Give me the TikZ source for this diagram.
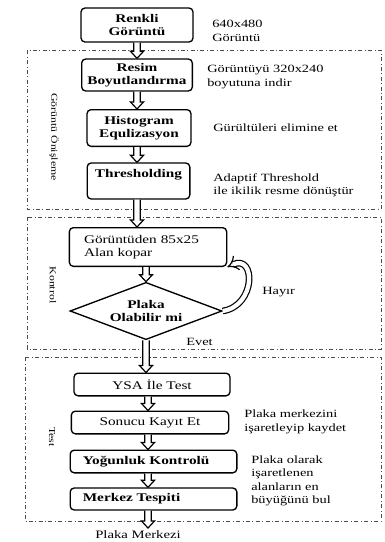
\documentclass[tikz,border=0pt]{standalone}
\usepackage{fontspec}
\setmainfont{Liberation Serif}[FakeStretch=1.3]
\usetikzlibrary{shapes.geometric,arrows.meta,calc}

\tikzset{
  stepbox/.style={draw,line width=1pt,rounded corners=3pt,inner sep=1pt,
    font=\fontsize{8.8}{9.8}\selectfont,align=center},
  note/.style={anchor=west,align=left,inner sep=0pt,
    font=\fontsize{8.3}{10}\selectfont},
  region/.style={draw=black!70,dash dot,line width=0.6pt},
  sidelabel/.style={rotate=-90,inner sep=0pt,font=\fontsize{6.8}{7.5}\selectfont},
  flowline/.style={draw,line width=0.9pt,line join=miter,fill=white},
  loopflow/.style={double,double distance=3.2pt,line width=0.9pt,
    -{Implies[length=6pt,width=12pt]}},
}
% hollow down arrow from #1 to #2 (same x)
\newcommand{\flowarrow}[2]{%
  \draw[flowline] ($(#1)+(-3.2,0)$) -- ($(#2)+(-3.2,-7)$) -- ($(#2)+(-6.5,-7)$)
    -- (#2) -- ($(#2)+(6.5,-7)$) -- ($(#2)+(3.2,-7)$) -- ($(#1)+(3.2,0)$);}

\begin{document}
\begin{tikzpicture}[x=0.75pt,y=-0.75pt]
    \useasboundingbox (0,0) rectangle (385,542);

    % regions
    \draw[region] (27,50) rectangle (381,209);
    \draw[region] (27,217) rectangle (381,349);
    \draw[region] (25,357) rectangle (381,521);
    \node[sidelabel] (lblpre) at (54,137) {Görüntü Önişleme};
    \node[sidelabel] (lblkon) at (53,285) {Kontrol};
    \node[sidelabel] (lbltest) at (52,437) {Test};

    % preprocessing
    \node[stepbox,minimum width=84pt,minimum height=25.5pt] (renkli) at (137,25)
      {\textbf{Renkli}\\\textbf{Görüntü}};
    \node[note] (n1) at (212,31) {640x480\\Görüntü};
    \node[stepbox,minimum width=83pt,minimum height=24pt] (resim) at (137,75)
      {\textbf{Resim}\\\textbf{Boyutlandırma}};
    \node[note] (n2) at (207,77) {Görüntüyü 320x240\\boyutuna indir};
    \node[stepbox,minimum width=78pt,minimum height=27.5pt] (histo) at (139,128)
      {\textbf{Histogram}\\\textbf{Equlizasyon}};
    \node[note] (n3) at (213,128) {Gürültüleri elimine et};
    \node[stepbox,minimum width=77pt,minimum height=27pt,text depth=11pt] (thresh) at (138.5,181)
      {\textbf{Thresholding}};
    \node[note] (n4) at (213,185) {Adaptif Threshold\\ile ikilik resme dönüştür};

    % control
    \node[stepbox,minimum width=118pt,minimum height=29pt,align=left,
      text width=96pt] (kopar) at (148,247)
      {Görüntüden 85x25\\Alan kopar};
    \node[diamond,draw,line width=1pt,aspect=2.6,minimum width=114pt,minimum height=43pt,
      inner sep=0pt,align=center,font=\fontsize{8.8}{9.8}\selectfont] (dia) at (146,311)
      {\textbf{Plaka}\\\textbf{Olabilir mi}};
    \node[note] (hayir) at (262,292) {Hayır};
    \node[note] (evet) at (186,342) {Evet};

    % test
    \node[stepbox,minimum width=117pt,minimum height=17pt] (ysa) at (152,384.5)
      {YSA İle Test};
    \node[stepbox,minimum width=118pt,minimum height=17pt] (sonuc) at (150,422.5)
      {Sonucu Kayıt Et};
    \node[note] (n5) at (244,422) {Plaka merkezini\\işaretleyip kaydet};
    \node[stepbox,minimum width=125pt,minimum height=17pt,align=left,
      text width=106pt] (yogun) at (153.5,461.5)
      {\textbf{Yoğunluk Kontrolü}};
    \node[stepbox,minimum width=125pt,minimum height=16.5pt,align=left,
      text width=106pt] (merkez) at (153.5,499)
      {\textbf{Merkez Tespiti}};
    \node[note] (n6) at (251,481) {Plaka olarak\\işaretlenen\\alanların en\\büyüğünü bul};
    \node[inner sep=0pt,font=\fontsize{8.5}{9}\selectfont] (cikti) at (138,535) {Plaka Merkezi};
    \coordinate (son) at (148,528);

    % arrows
    \flowarrow{renkli.south}{resim.north}
    \flowarrow{resim.south}{resim.south |- histo.north}
    \flowarrow{histo.south -| resim.south}{resim.south |- thresh.north}
    \flowarrow{thresh.south -| resim.south}{resim.south |- kopar.north}
    \flowarrow{kopar.south -| dia.north}{dia.north}
    \flowarrow{dia.south}{dia.south |- ysa.north}
    \flowarrow{ysa.south -| son}{son |- sonuc.north}
    \flowarrow{sonuc.south -| son}{son |- yogun.north}
    \flowarrow{yogun.south -| son}{son |- merkez.north}
    \flowarrow{merkez.south -| son}{son}
    \draw[loopflow] (dia.east) .. controls (256,306) and (256,254) .. (kopar.south east);
\end{tikzpicture}
\end{document}
